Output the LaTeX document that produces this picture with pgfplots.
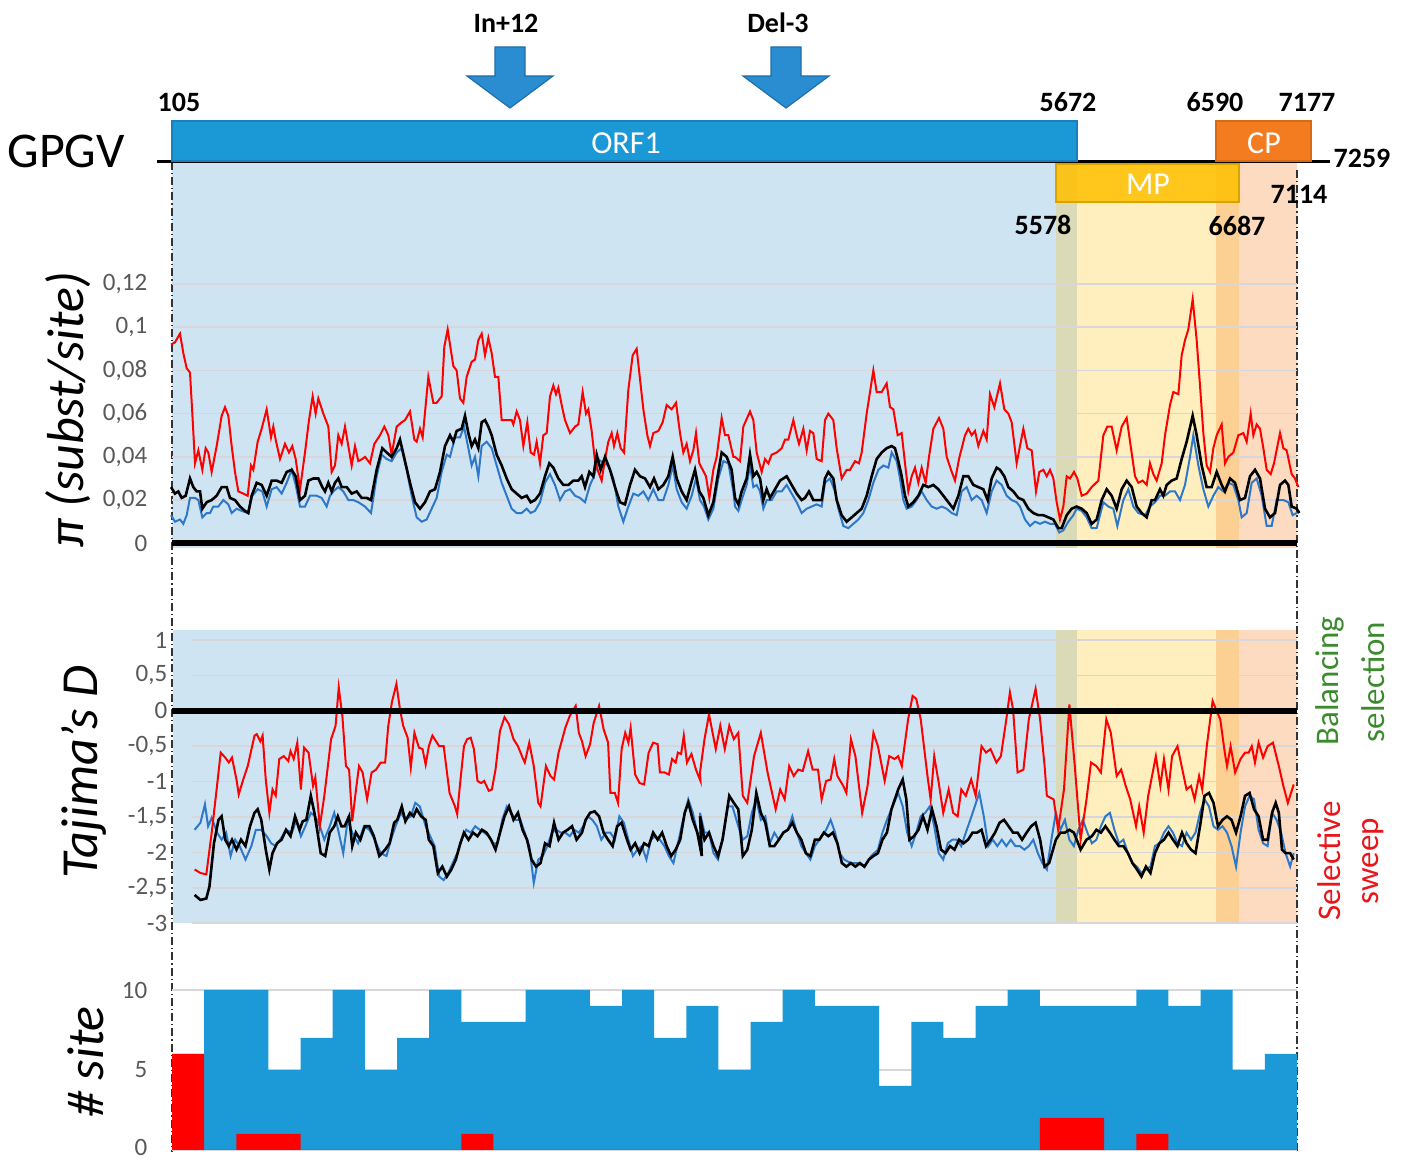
\documentclass[border=0pt]{standalone}
\usepackage{pgfplots}
\pgfplotsset{compat=1.18}
\usepackage{pgfplotstable}
\usepackage{fontspec}
\setmainfont{Carlito}
\definecolor{shblue}{HTML}{CFE4F3}
\definecolor{orfblue}{HTML}{1B98D6}
\definecolor{orfedge}{HTML}{1A7FBF}
\definecolor{mpyel}{HTML}{FFC000}
\definecolor{mpedge}{HTML}{D9A400}
\definecolor{cporg}{HTML}{F47C20}
\definecolor{cpedge}{HTML}{D96A14}
\definecolor{linered}{HTML}{FF0000}
\definecolor{lineblue}{HTML}{2E78C9}
\definecolor{barblue}{HTML}{1B9AD7}
\definecolor{tickgray}{HTML}{595959}
\definecolor{gridc}{HTML}{D8D6D8}
\definecolor{balgreen}{HTML}{3B8B2E}
\definecolor{selred}{HTML}{E8161B}
\definecolor{arrowblue}{HTML}{2A8DD2}
\definecolor{arrowedge}{HTML}{1F6FA8}

% pi: s = segment, x = position within segment, v = pi (subst/site)
\pgfplotstableread[row sep=\\]{
s x v\\
0 18 0.092\\ 0 30 0.093\\ 0 45 0.097\\ 0 55 0.088\\ 0 65 0.081\\ 0 75 0.079\\ 0 82 0.060\\ 0 90 0.037\\ 0 100 0.043\\ 0 112 0.034\\
0 122 0.044\\ 0 130 0.042\\ 0 140 0.033\\ 0 155 0.045\\ 0 170 0.059\\ 0 180 0.063\\ 0 190 0.059\\ 0 200 0.045\\ 0 210 0.033\\ 0 220 0.024\\
0 235 0.023\\ 0 248 0.022\\ 0 258 0.036\\ 0 265 0.034\\ 0 278 0.047\\ 0 290 0.053\\ 0 305 0.062\\ 0 318 0.049\\ 0 325 0.054\\ 0 332 0.048\\
0 345 0.039\\ 0 360 0.046\\ 0 372 0.042\\ 0 382 0.045\\ 0 392 0.039\\ 0 405 0.025\\ 0 420 0.042\\ 0 432 0.057\\ 0 443 0.068\\ 0 452 0.060\\
0 460 0.067\\ 0 475 0.060\\ 0 490 0.054\\ 0 500 0.033\\ 0 510 0.036\\ 0 520 0.050\\ 0 530 0.046\\ 0 540 0.054\\ 0 550 0.045\\ 0 560 0.036\\
0 570 0.045\\ 0 580 0.038\\ 0 592 0.039\\ 0 600 0.040\\ 0 615 0.037\\ 0 628 0.046\\ 0 645 0.050\\ 0 658 0.054\\ 0 670 0.050\\ 0 680 0.041\\
0 695 0.054\\ 0 710 0.056\\ 0 720 0.057\\ 0 735 0.061\\ 0 748 0.048\\ 0 755 0.047\\ 0 765 0.053\\ 0 773 0.049\\ 0 790 0.077\\ 0 805 0.065\\
0 815 0.065\\ 0 830 0.068\\ 0 838 0.091\\ 0 848 0.099\\
1 10 0.082\\ 1 20 0.080\\ 1 30 0.067\\ 1 40 0.065\\ 1 50 0.077\\ 1 65 0.084\\ 1 75 0.085\\ 1 85 0.094\\ 1 95 0.097\\ 1 105 0.087\\
1 115 0.095\\ 1 125 0.088\\ 1 135 0.077\\ 1 145 0.077\\ 1 155 0.057\\ 1 170 0.057\\ 1 185 0.057\\ 1 190 0.055\\ 1 200 0.061\\ 1 210 0.057\\
1 220 0.045\\ 1 232 0.056\\ 1 242 0.042\\ 1 252 0.041\\ 1 260 0.047\\ 1 270 0.037\\ 1 280 0.050\\ 1 290 0.051\\ 1 300 0.068\\ 1 310 0.073\\
1 318 0.069\\ 1 325 0.072\\ 1 335 0.064\\ 1 345 0.057\\ 1 360 0.051\\ 1 375 0.054\\ 1 385 0.055\\ 1 398 0.070\\ 1 408 0.060\\ 1 415 0.062\\
1 425 0.052\\ 1 435 0.038\\ 1 445 0.033\\ 1 455 0.029\\ 1 465 0.039\\ 1 475 0.047\\ 1 485 0.051\\ 1 492 0.045\\ 1 502 0.051\\ 1 512 0.044\\
1 522 0.042\\ 1 535 0.071\\ 1 548 0.087\\ 1 560 0.090\\ 1 570 0.076\\ 1 580 0.062\\ 1 592 0.050\\ 1 600 0.045\\ 1 610 0.051\\ 1 625 0.052\\
1 638 0.056\\ 1 650 0.064\\ 1 665 0.062\\ 1 678 0.065\\ 1 690 0.051\\ 1 700 0.042\\ 1 710 0.046\\ 1 720 0.038\\ 1 730 0.043\\ 1 738 0.051\\
1 748 0.037\\ 1 758 0.034\\ 1 768 0.031\\ 1 778 0.021\\ 1 790 0.034\\ 1 800 0.040\\ 1 815 0.058\\ 1 825 0.050\\ 1 835 0.050\\ 1 850 0.040\\
2 0 0.040\\ 2 15 0.038\\ 2 25 0.054\\ 2 45 0.061\\ 2 55 0.057\\ 2 65 0.042\\ 2 80 0.033\\ 2 90 0.039\\ 2 100 0.037\\ 2 110 0.041\\
2 125 0.042\\ 2 140 0.044\\ 2 150 0.048\\ 2 160 0.048\\ 2 175 0.057\\ 2 185 0.050\\ 2 192 0.046\\ 2 205 0.053\\ 2 215 0.043\\ 2 225 0.052\\
2 235 0.051\\ 2 245 0.039\\ 2 260 0.038\\ 2 270 0.057\\ 2 280 0.060\\ 2 295 0.057\\ 2 305 0.044\\ 2 320 0.030\\ 2 335 0.034\\ 2 345 0.034\\
2 360 0.038\\ 2 372 0.037\\ 2 380 0.042\\ 2 395 0.060\\ 2 405 0.070\\ 2 415 0.080\\ 2 425 0.070\\ 2 440 0.070\\ 2 455 0.074\\ 2 465 0.063\\
2 475 0.062\\ 2 488 0.050\\ 2 500 0.051\\ 2 510 0.037\\ 2 520 0.024\\ 2 530 0.031\\ 2 540 0.035\\ 2 550 0.028\\ 2 560 0.035\\ 2 572 0.028\\
2 582 0.040\\ 2 595 0.053\\ 2 612 0.058\\ 2 625 0.053\\ 2 635 0.040\\ 2 648 0.034\\ 2 660 0.029\\ 2 672 0.039\\ 2 690 0.050\\ 2 700 0.053\\
2 710 0.050\\ 2 720 0.052\\ 2 730 0.045\\ 2 745 0.052\\ 2 755 0.048\\ 2 765 0.069\\ 2 778 0.063\\ 2 795 0.074\\ 2 808 0.062\\ 2 820 0.060\\
2 830 0.056\\ 2 845 0.037\\
3 0 0.045\\ 3 10 0.053\\ 3 22 0.044\\ 3 35 0.043\\ 3 48 0.024\\ 3 58 0.033\\ 3 70 0.034\\ 3 80 0.031\\ 3 90 0.034\\ 3 100 0.030\\
3 110 0.019\\ 3 120 0.011\\ 3 130 0.017\\ 3 140 0.031\\ 3 150 0.030\\ 3 162 0.033\\ 3 172 0.030\\ 3 185 0.022\\ 3 200 0.023\\ 3 215 0.026\\
3 235 0.029\\ 3 250 0.050\\ 3 262 0.054\\ 3 275 0.054\\ 3 290 0.043\\ 3 305 0.054\\ 3 320 0.058\\ 3 332 0.045\\ 3 345 0.031\\ 3 355 0.028\\
3 368 0.029\\ 3 380 0.027\\ 3 390 0.037\\ 3 400 0.032\\ 3 410 0.029\\ 3 425 0.037\\ 3 435 0.050\\ 3 450 0.064\\ 3 460 0.070\\ 3 475 0.069\\
3 485 0.087\\ 3 495 0.094\\ 3 505 0.099\\ 3 518 0.113\\ 3 530 0.094\\ 3 540 0.073\\ 3 550 0.051\\ 3 560 0.036\\ 3 570 0.033\\ 3 580 0.044\\
3 590 0.050\\ 3 605 0.055\\ 3 615 0.037\\ 3 625 0.040\\ 3 640 0.042\\ 3 655 0.050\\ 3 670 0.051\\ 3 680 0.047\\ 3 692 0.060\\ 3 700 0.050\\
3 710 0.055\\ 3 720 0.053\\ 3 730 0.044\\ 3 740 0.034\\ 3 752 0.032\\ 3 762 0.037\\ 3 780 0.051\\ 3 790 0.044\\ 3 800 0.043\\ 3 815 0.032\\
3 825 0.030\\ 3 835 0.026\\
}\piRed

\pgfplotstableread[row sep=\\]{
s x v\\
0 18 0.026\\ 0 30 0.023\\ 0 40 0.024\\ 0 50 0.021\\ 0 62 0.022\\ 0 75 0.030\\ 0 85 0.026\\ 0 95 0.024\\ 0 105 0.024\\ 0 112 0.016\\
0 125 0.019\\ 0 140 0.020\\ 0 155 0.022\\ 0 170 0.026\\ 0 185 0.026\\ 0 195 0.021\\ 0 210 0.020\\ 0 225 0.017\\ 0 240 0.015\\ 0 250 0.014\\
0 260 0.022\\ 0 275 0.028\\ 0 290 0.027\\ 0 305 0.022\\ 0 320 0.029\\ 0 335 0.029\\ 0 350 0.028\\ 0 365 0.033\\ 0 380 0.034\\ 0 392 0.031\\
0 405 0.020\\ 0 420 0.022\\ 0 430 0.029\\ 0 445 0.030\\ 0 460 0.030\\ 0 472 0.026\\ 0 480 0.024\\ 0 490 0.028\\ 0 500 0.024\\ 0 510 0.028\\
0 520 0.030\\ 0 530 0.026\\ 0 545 0.026\\ 0 560 0.023\\ 0 575 0.024\\ 0 590 0.021\\ 0 605 0.021\\ 0 618 0.020\\ 0 635 0.034\\ 0 652 0.044\\
0 665 0.042\\ 0 680 0.040\\ 0 695 0.044\\ 0 705 0.048\\ 0 720 0.038\\ 0 735 0.028\\ 0 750 0.019\\ 0 765 0.016\\ 0 780 0.019\\ 0 795 0.024\\
0 810 0.025\\ 0 825 0.033\\ 0 840 0.045\\
1 0 0.050\\ 1 10 0.047\\ 1 20 0.052\\ 1 35 0.053\\ 1 45 0.059\\ 1 55 0.051\\ 1 65 0.045\\ 1 75 0.048\\ 1 85 0.044\\ 1 95 0.056\\
1 105 0.057\\ 1 115 0.054\\ 1 125 0.050\\ 1 140 0.041\\ 1 155 0.036\\ 1 170 0.030\\ 1 185 0.025\\ 1 200 0.023\\ 1 215 0.021\\ 1 230 0.022\\
1 242 0.019\\ 1 255 0.020\\ 1 270 0.023\\ 1 285 0.031\\ 1 298 0.037\\ 1 310 0.035\\ 1 325 0.030\\ 1 340 0.027\\ 1 355 0.027\\ 1 370 0.029\\
1 385 0.029\\ 1 395 0.031\\ 1 405 0.026\\ 1 418 0.033\\ 1 430 0.031\\ 1 440 0.041\\ 1 452 0.034\\ 1 465 0.040\\ 1 480 0.034\\ 1 495 0.026\\
1 510 0.019\\ 1 525 0.018\\ 1 540 0.027\\ 1 555 0.034\\ 1 570 0.031\\ 1 585 0.030\\ 1 600 0.026\\ 1 612 0.030\\ 1 625 0.025\\ 1 640 0.027\\
1 655 0.031\\ 1 668 0.040\\ 1 680 0.030\\ 1 695 0.024\\ 1 710 0.020\\ 1 722 0.027\\ 1 735 0.034\\ 1 748 0.024\\ 1 760 0.021\\ 1 775 0.013\\
1 790 0.019\\ 1 805 0.033\\ 1 815 0.042\\ 1 830 0.040\\ 1 845 0.034\\
2 0 0.021\\ 2 10 0.018\\ 2 20 0.024\\ 2 35 0.030\\ 2 45 0.041\\ 2 55 0.031\\ 2 65 0.033\\ 2 75 0.030\\ 2 85 0.020\\ 2 95 0.025\\
2 105 0.021\\ 2 120 0.025\\ 2 135 0.029\\ 2 155 0.031\\ 2 170 0.027\\ 2 185 0.023\\ 2 200 0.020\\ 2 210 0.021\\ 2 222 0.024\\ 2 235 0.020\\
2 245 0.020\\ 2 260 0.020\\ 2 270 0.030\\ 2 280 0.033\\ 2 295 0.030\\ 2 305 0.020\\ 2 320 0.013\\ 2 335 0.010\\ 2 350 0.012\\ 2 365 0.014\\
2 380 0.016\\ 2 395 0.022\\ 2 410 0.031\\ 2 425 0.039\\ 2 440 0.042\\ 2 455 0.044\\ 2 470 0.045\\ 2 480 0.044\\ 2 490 0.038\\ 2 500 0.031\\
2 510 0.022\\ 2 520 0.017\\ 2 535 0.019\\ 2 550 0.022\\ 2 565 0.027\\ 2 580 0.026\\ 2 595 0.027\\ 2 610 0.025\\ 2 625 0.022\\ 2 640 0.019\\
2 655 0.016\\ 2 670 0.022\\ 2 685 0.031\\ 2 700 0.031\\ 2 715 0.027\\ 2 730 0.026\\ 2 745 0.025\\ 2 758 0.020\\ 2 770 0.030\\ 2 785 0.035\\
2 795 0.034\\ 2 808 0.031\\ 2 820 0.026\\ 2 835 0.024\\ 2 850 0.021\\
3 10 0.020\\ 3 25 0.016\\ 3 40 0.014\\ 3 55 0.013\\ 3 70 0.013\\ 3 85 0.012\\ 3 100 0.011\\ 3 115 0.007\\ 3 125 0.007\\ 3 140 0.013\\
3 155 0.016\\ 3 170 0.017\\ 3 185 0.016\\ 3 200 0.014\\ 3 215 0.009\\ 3 230 0.011\\ 3 245 0.020\\ 3 260 0.025\\ 3 275 0.022\\ 3 290 0.016\\
3 305 0.025\\ 3 320 0.029\\ 3 335 0.026\\ 3 350 0.017\\ 3 365 0.014\\ 3 380 0.012\\ 3 395 0.020\\ 3 405 0.020\\ 3 420 0.025\\ 3 430 0.022\\
3 440 0.027\\ 3 455 0.029\\ 3 470 0.030\\ 3 485 0.039\\ 3 500 0.047\\ 3 518 0.059\\ 3 530 0.050\\ 3 545 0.036\\ 3 560 0.026\\ 3 575 0.026\\
3 590 0.033\\ 3 605 0.027\\ 3 615 0.024\\ 3 630 0.030\\ 3 645 0.028\\ 3 660 0.020\\ 3 675 0.021\\ 3 690 0.031\\ 3 705 0.034\\ 3 720 0.030\\
3 735 0.016\\ 3 750 0.012\\ 3 765 0.014\\ 3 780 0.027\\ 3 795 0.029\\ 3 805 0.027\\ 3 815 0.017\\ 3 830 0.016\\ 3 838 0.014\\
}\piBlack

\pgfplotstableread[row sep=\\]{
s x v\\
0 18 0.013\\ 0 30 0.010\\ 0 45 0.011\\ 0 55 0.009\\ 0 65 0.013\\ 0 75 0.021\\ 0 90 0.021\\ 0 100 0.020\\ 0 112 0.012\\ 0 125 0.014\\
0 135 0.014\\ 0 145 0.017\\ 0 160 0.017\\ 0 175 0.020\\ 0 190 0.018\\ 0 200 0.014\\ 0 215 0.016\\ 0 230 0.015\\ 0 248 0.014\\ 0 262 0.022\\
0 278 0.025\\ 0 292 0.024\\ 0 305 0.017\\ 0 320 0.025\\ 0 335 0.026\\ 0 350 0.023\\ 0 365 0.028\\ 0 380 0.034\\ 0 392 0.027\\ 0 405 0.017\\
0 420 0.017\\ 0 435 0.022\\ 0 455 0.022\\ 0 470 0.021\\ 0 485 0.017\\ 0 495 0.022\\ 0 505 0.024\\ 0 520 0.026\\ 0 535 0.024\\ 0 550 0.020\\
0 565 0.020\\ 0 580 0.019\\ 0 600 0.017\\ 0 618 0.014\\ 0 635 0.031\\ 0 650 0.041\\ 0 665 0.039\\ 0 680 0.038\\ 0 695 0.042\\ 0 710 0.044\\
0 725 0.034\\ 0 740 0.022\\ 0 755 0.012\\ 0 770 0.010\\ 0 785 0.011\\ 0 800 0.016\\ 0 815 0.021\\ 0 830 0.033\\ 0 845 0.041\\
1 0 0.040\\ 1 15 0.049\\ 1 30 0.049\\ 1 42 0.054\\ 1 55 0.044\\ 1 65 0.036\\ 1 75 0.040\\ 1 85 0.031\\ 1 95 0.045\\ 1 110 0.047\\
1 125 0.044\\ 1 140 0.036\\ 1 155 0.028\\ 1 170 0.022\\ 1 185 0.016\\ 1 200 0.014\\ 1 215 0.014\\ 1 230 0.016\\ 1 242 0.014\\ 1 255 0.015\\
1 270 0.019\\ 1 285 0.028\\ 1 300 0.032\\ 1 315 0.027\\ 1 330 0.020\\ 1 345 0.024\\ 1 360 0.025\\ 1 375 0.022\\ 1 390 0.021\\ 1 405 0.019\\
1 420 0.027\\ 1 432 0.031\\ 1 445 0.039\\ 1 460 0.037\\ 1 475 0.036\\ 1 490 0.030\\ 1 505 0.017\\ 1 520 0.010\\ 1 535 0.017\\ 1 550 0.023\\
1 565 0.022\\ 1 580 0.024\\ 1 595 0.020\\ 1 610 0.025\\ 1 625 0.020\\ 1 640 0.020\\ 1 655 0.027\\ 1 668 0.036\\ 1 680 0.025\\ 1 695 0.019\\
1 710 0.016\\ 1 725 0.022\\ 1 738 0.030\\ 1 750 0.020\\ 1 762 0.017\\ 1 775 0.011\\ 1 790 0.016\\ 1 805 0.030\\ 1 820 0.038\\ 1 835 0.037\\
1 850 0.024\\
2 0 0.017\\ 2 10 0.015\\ 2 20 0.020\\ 2 35 0.027\\ 2 45 0.036\\ 2 55 0.026\\ 2 65 0.027\\ 2 75 0.024\\ 2 85 0.016\\ 2 95 0.020\\
2 110 0.020\\ 2 125 0.024\\ 2 140 0.024\\ 2 155 0.027\\ 2 170 0.023\\ 2 185 0.019\\ 2 200 0.014\\ 2 215 0.016\\ 2 230 0.017\\ 2 245 0.018\\
2 260 0.017\\ 2 270 0.028\\ 2 285 0.030\\ 2 300 0.024\\ 2 310 0.016\\ 2 325 0.008\\ 2 340 0.007\\ 2 355 0.009\\ 2 370 0.011\\ 2 385 0.014\\
2 400 0.020\\ 2 415 0.028\\ 2 430 0.034\\ 2 445 0.036\\ 2 460 0.035\\ 2 470 0.042\\ 2 485 0.038\\ 2 495 0.030\\ 2 505 0.020\\ 2 515 0.016\\
2 530 0.017\\ 2 545 0.020\\ 2 560 0.024\\ 2 575 0.020\\ 2 590 0.017\\ 2 605 0.016\\ 2 620 0.017\\ 2 635 0.016\\ 2 650 0.014\\ 2 665 0.013\\
2 680 0.024\\ 2 695 0.026\\ 2 710 0.020\\ 2 725 0.022\\ 2 740 0.020\\ 2 755 0.014\\ 2 770 0.024\\ 2 785 0.029\\ 2 800 0.027\\ 2 815 0.022\\
2 830 0.020\\ 2 845 0.019\\
3 0 0.017\\ 3 15 0.011\\ 3 30 0.008\\ 3 45 0.010\\ 3 60 0.009\\ 3 75 0.010\\ 3 90 0.009\\ 3 105 0.009\\ 3 118 0.005\\ 3 130 0.006\\
3 145 0.010\\ 3 160 0.013\\ 3 170 0.016\\ 3 185 0.015\\ 3 200 0.012\\ 3 215 0.007\\ 3 230 0.007\\ 3 250 0.019\\ 3 265 0.017\\ 3 280 0.016\\
3 292 0.008\\ 3 310 0.020\\ 3 325 0.025\\ 3 340 0.017\\ 3 355 0.014\\ 3 375 0.013\\ 3 390 0.017\\ 3 405 0.019\\ 3 420 0.022\\ 3 435 0.022\\
3 450 0.024\\ 3 465 0.024\\ 3 480 0.020\\ 3 495 0.027\\ 3 510 0.040\\ 3 520 0.050\\ 3 535 0.036\\ 3 550 0.025\\ 3 565 0.017\\ 3 580 0.022\\
3 595 0.026\\ 3 610 0.024\\ 3 625 0.028\\ 3 640 0.027\\ 3 655 0.020\\ 3 665 0.012\\ 3 680 0.014\\ 3 695 0.028\\ 3 710 0.030\\ 3 725 0.022\\
3 740 0.008\\ 3 755 0.008\\ 3 770 0.020\\ 3 790 0.020\\ 3 805 0.019\\ 3 818 0.013\\ 3 830 0.014\\ 3 838 0.015\\
}\piBlue

% Tajima's D
\pgfplotstableread[row sep=\\]{
s x v\\
0 432 -2.24\\ 0 445 -2.29\\ 0 458 -2.31\\ 0 470 -1.72\\ 0 480 -1.16\\ 0 490 -0.59\\ 0 500 -0.66\\ 0 508 -0.73\\ 0 515 -0.66\\ 0 525 -0.97\\
0 530 -1.18\\ 0 540 -0.97\\ 0 550 -0.78\\ 0 565 -0.35\\ 0 570 -0.33\\ 0 578 -0.43\\ 0 583 -0.35\\ 0 590 -0.97\\ 0 598 -1.44\\ 0 605 -1.11\\
0 612 -1.20\\ 0 620 -0.68\\ 0 630 -0.64\\ 0 640 -0.71\\ 0 645 -0.57\\ 0 652 -0.68\\ 0 660 -0.45\\ 0 668 -1.11\\ 0 675 -0.52\\ 0 685 -0.59\\
0 695 -1.06\\ 0 700 -0.94\\ 0 710 -1.63\\ 0 720 -1.20\\ 0 735 -0.40\\ 0 745 -0.21\\ 0 752 0.33\\ 0 760 -0.07\\ 0 768 -0.78\\ 0 775 -0.83\\
0 782 -1.56\\ 0 790 -1.13\\ 0 797 -0.78\\ 0 805 -0.87\\ 0 815 -1.25\\ 0 825 -0.87\\ 0 835 -0.83\\ 0 845 -0.73\\ 0 855 -0.73\\ 0 862 -0.21\\
0 870 0.12\\ 0 880 0.38\\ 0 888 0.02\\ 0 895 -0.21\\ 0 905 -0.38\\ 0 912 -0.80\\ 0 920 -0.31\\ 0 930 -0.52\\ 0 938 -0.54\\ 0 945 -0.76\\
0 952 -0.50\\ 0 960 -0.35\\ 0 968 -0.43\\ 0 975 -0.50\\ 0 985 -0.50\\ 0 998 -1.16\\ 0 1010 -1.35\\ 0 1015 -1.46\\ 0 1022 -0.99\\ 0 1030 -0.50\\
0 1037 -0.40\\ 0 1045 -0.38\\ 0 1052 -0.54\\ 0 1060 -0.99\\ 0 1068 -1.02\\ 0 1075 -0.99\\ 0 1085 -1.13\\ 0 1092 -1.11\\ 0 1100 -0.83\\ 0 1110 -0.28\\
0 1120 -0.09\\ 0 1130 -0.19\\ 0 1140 -0.40\\ 0 1150 -0.50\\ 0 1160 -0.66\\ 0 1165 -0.73\\ 0 1175 -0.45\\ 0 1185 -0.78\\ 0 1195 -1.30\\ 0 1200 -1.35\\
0 1212 -0.78\\ 0 1222 -0.92\\ 0 1230 -0.97\\ 0 1240 -0.59\\ 0 1255 -0.24\\ 0 1265 -0.07\\ 0 1278 0.07\\ 0 1285 -0.31\\ 0 1292 -0.43\\ 0 1300 -0.64\\
0 1310 -0.47\\ 0 1318 -0.17\\ 0 1330 0.07\\ 0 1340 -0.26\\ 0 1350 -0.45\\ 0 1355 -1.16\\ 0 1365 -1.16\\ 0 1372 -1.30\\ 0 1380 -0.54\\ 0 1388 -0.31\\
0 1395 -0.45\\ 0 1400 -0.24\\ 0 1410 -0.90\\ 0 1420 -1.02\\ 0 1430 -1.04\\ 0 1440 -0.59\\ 0 1450 -0.45\\ 0 1460 -0.47\\ 0 1465 -0.87\\ 0 1475 -0.87\\
0 1485 -0.90\\ 0 1492 -0.68\\ 0 1500 -0.73\\ 0 1505 -0.59\\ 0 1512 -0.61\\ 0 1518 -0.35\\ 0 1525 -0.73\\ 0 1535 -0.61\\ 0 1545 -0.83\\ 0 1555 -0.99\\
1 0 -0.87\\ 1 10 -0.40\\ 1 20 -0.05\\ 1 35 -0.54\\ 1 45 -0.21\\ 1 55 -0.54\\ 1 65 -0.21\\ 1 75 -0.40\\ 1 85 -0.31\\ 1 95 -1.20\\
1 105 -1.30\\ 1 120 -0.64\\ 1 135 -0.31\\ 1 150 -0.87\\ 1 160 -1.16\\ 1 168 -1.39\\ 1 178 -1.11\\ 1 188 -1.25\\ 1 198 -0.78\\ 1 208 -0.92\\
1 218 -0.83\\ 1 228 -0.85\\ 1 240 -0.57\\ 1 250 -0.83\\ 1 262 -0.83\\ 1 270 -1.25\\ 1 280 -0.99\\ 1 290 -0.97\\ 1 298 -0.68\\ 1 305 -0.92\\
1 318 -1.06\\ 1 325 -1.16\\ 1 335 -0.40\\ 1 345 -0.64\\ 1 360 -1.44\\ 1 372 -1.06\\ 1 385 -0.31\\ 1 395 -0.50\\ 1 410 -0.99\\ 1 420 -0.64\\
1 432 -0.68\\ 1 440 -0.64\\ 1 448 -0.78\\ 1 462 -0.12\\ 1 472 0.21\\ 1 480 0.17\\ 1 490 -0.12\\ 1 505 -0.92\\ 1 512 -1.25\\ 1 520 -0.64\\
1 530 -1.02\\ 1 540 -1.44\\ 1 552 -1.11\\ 1 562 -1.44\\ 1 572 -1.49\\ 1 580 -1.11\\ 1 590 -1.20\\ 1 602 -0.97\\ 1 612 -1.20\\ 1 625 -0.50\\
1 635 -0.59\\ 1 645 -0.54\\ 1 658 -0.73\\ 1 668 -0.64\\ 1 680 -0.12\\ 1 688 0.26\\ 1 695 0.02\\ 1 705 -0.87\\ 1 718 -0.83\\ 1 730 -0.12\\
1 745 0.31\\ 1 755 -0.12\\ 1 765 -0.78\\ 1 770 -1.20\\ 1 785 -1.25\\ 1 795 -1.68\\ 1 808 -1.11\\ 1 820 0.09\\ 1 832 -0.78\\ 1 845 -1.82\\
1 858 -1.25\\ 1 868 -0.73\\ 1 880 -0.78\\ 1 890 -0.87\\ 1 902 -0.12\\ 1 912 -0.31\\ 1 925 -0.92\\ 1 935 -0.83\\ 1 945 -1.06\\ 1 955 -1.25\\
1 968 -1.63\\ 1 975 -1.35\\ 1 985 -1.72\\ 1 995 -1.20\\ 1 1012 -0.64\\ 1 1022 -1.06\\ 1 1030 -0.68\\ 1 1040 -1.11\\ 1 1048 -0.64\\ 1 1060 -0.50\\
1 1080 -1.11\\ 1 1090 -1.06\\ 1 1098 -1.25\\ 1 1108 -0.92\\ 1 1115 -1.11\\ 1 1125 -0.50\\ 1 1138 0.14\\ 1 1148 -0.02\\ 1 1155 -0.12\\ 1 1165 -0.59\\
1 1170 -0.78\\ 1 1178 -0.50\\ 1 1188 -0.87\\ 1 1200 -0.68\\ 1 1210 -0.59\\ 1 1218 -0.59\\ 1 1225 -0.50\\ 1 1232 -0.73\\ 1 1240 -0.45\\ 1 1250 -0.66\\
1 1260 -0.50\\ 1 1272 -0.45\\ 1 1285 -0.78\\ 1 1295 -1.06\\ 1 1305 -1.30\\ 1 1318 -1.04\\
}\tdRed

\pgfplotstableread[row sep=\\]{
s x v\\
0 432 -2.60\\ 0 445 -2.67\\ 0 458 -2.65\\ 0 465 -2.48\\ 0 475 -1.87\\ 0 485 -1.54\\ 0 492 -1.49\\ 0 500 -1.82\\ 0 508 -1.91\\ 0 515 -1.82\\
0 525 -1.96\\ 0 535 -1.82\\ 0 545 -1.91\\ 0 555 -1.63\\ 0 565 -1.44\\ 0 572 -1.39\\ 0 580 -1.54\\ 0 590 -1.96\\ 0 598 -2.24\\ 0 605 -2.01\\
0 615 -1.87\\ 0 625 -1.82\\ 0 635 -1.68\\ 0 645 -1.77\\ 0 655 -1.49\\ 0 665 -1.68\\ 0 672 -1.56\\ 0 680 -1.54\\ 0 690 -1.20\\ 0 698 -1.44\\
0 705 -1.72\\ 0 712 -2.01\\ 0 722 -2.05\\ 0 732 -1.72\\ 0 742 -1.63\\ 0 750 -1.49\\ 0 758 -1.63\\ 0 765 -1.63\\ 0 775 -1.49\\ 0 782 -1.91\\
0 790 -1.72\\ 0 800 -1.82\\ 0 810 -1.63\\ 0 820 -1.63\\ 0 830 -1.77\\ 0 842 -2.05\\ 0 855 -1.96\\ 0 865 -1.87\\ 0 875 -1.58\\ 0 882 -1.54\\
0 892 -1.35\\ 0 900 -1.56\\ 0 910 -1.44\\ 0 918 -1.49\\ 0 925 -1.39\\ 0 935 -1.49\\ 0 945 -1.54\\ 0 952 -1.82\\ 0 962 -1.91\\ 0 972 -2.29\\
0 982 -2.20\\ 0 992 -2.34\\ 0 1002 -2.24\\ 0 1012 -2.10\\ 0 1022 -1.87\\ 0 1030 -1.72\\ 0 1040 -1.82\\ 0 1050 -1.72\\ 0 1060 -1.77\\ 0 1070 -1.68\\
0 1080 -1.72\\ 0 1090 -1.82\\ 0 1100 -1.96\\ 0 1110 -1.72\\ 0 1120 -1.49\\ 0 1130 -1.35\\ 0 1140 -1.54\\ 0 1150 -1.44\\ 0 1160 -1.68\\ 0 1170 -1.82\\
0 1180 -2.10\\ 0 1190 -2.20\\ 0 1200 -2.15\\ 0 1210 -1.87\\ 0 1220 -1.91\\ 0 1230 -1.58\\ 0 1240 -1.82\\ 0 1250 -1.72\\ 0 1260 -1.68\\ 0 1270 -1.63\\
0 1280 -1.82\\ 0 1292 -1.72\\ 0 1300 -1.54\\ 0 1310 -1.44\\ 0 1320 -1.42\\ 0 1330 -1.49\\ 0 1340 -1.72\\ 0 1350 -1.82\\ 0 1360 -1.91\\ 0 1370 -1.63\\
0 1380 -1.58\\ 0 1392 -1.82\\ 0 1400 -1.96\\ 0 1410 -1.87\\ 0 1420 -2.01\\ 0 1430 -1.87\\ 0 1440 -1.91\\ 0 1450 -1.72\\ 0 1460 -1.82\\ 0 1470 -1.72\\
0 1480 -1.91\\ 0 1490 -2.05\\ 0 1500 -1.96\\ 0 1510 -1.82\\ 0 1520 -1.44\\ 0 1528 -1.30\\ 0 1538 -1.54\\ 0 1548 -1.72\\ 0 1558 -2.05\\
1 0 -1.49\\ 1 10 -1.82\\ 1 20 -1.72\\ 1 30 -1.91\\ 1 40 -2.05\\ 1 50 -1.82\\ 1 65 -1.20\\ 1 75 -1.30\\ 1 85 -1.39\\ 1 95 -2.05\\
1 105 -1.96\\ 1 115 -1.68\\ 1 125 -1.16\\ 1 135 -1.44\\ 1 145 -1.58\\ 1 155 -1.91\\ 1 165 -1.91\\ 1 175 -1.82\\ 1 185 -1.72\\ 1 195 -1.68\\
1 205 -1.58\\ 1 215 -1.72\\ 1 225 -1.82\\ 1 235 -2.01\\ 1 245 -2.05\\ 1 255 -1.82\\ 1 265 -1.82\\ 1 275 -1.72\\ 1 285 -1.77\\ 1 295 -1.72\\
1 305 -1.87\\ 1 315 -2.15\\ 1 325 -2.20\\ 1 335 -2.15\\ 1 345 -2.20\\ 1 355 -2.15\\ 1 365 -2.20\\ 1 375 -2.10\\ 1 385 -2.05\\ 1 395 -2.01\\
1 405 -1.82\\ 1 415 -1.72\\ 1 425 -1.39\\ 1 440 -1.11\\ 1 450 -0.97\\ 1 458 -1.25\\ 1 465 -1.82\\ 1 475 -1.77\\ 1 485 -1.68\\ 1 495 -1.49\\
1 505 -1.68\\ 1 515 -1.39\\ 1 525 -1.63\\ 1 535 -1.96\\ 1 545 -2.01\\ 1 555 -1.91\\ 1 565 -1.96\\ 1 575 -1.82\\ 1 585 -1.87\\ 1 595 -1.82\\
1 605 -1.72\\ 1 615 -1.72\\ 1 625 -1.68\\ 1 635 -1.91\\ 1 645 -1.82\\ 1 655 -1.72\\ 1 665 -1.58\\ 1 675 -1.54\\ 1 685 -1.63\\ 1 695 -1.72\\
1 705 -1.72\\ 1 715 -1.82\\ 1 725 -1.72\\ 1 735 -1.63\\ 1 745 -1.58\\ 1 755 -1.82\\ 1 765 -2.20\\ 1 775 -2.15\\ 1 790 -1.82\\ 1 800 -1.72\\
1 810 -1.72\\ 1 820 -1.68\\ 1 830 -1.72\\ 1 845 -1.96\\ 1 858 -1.82\\ 1 870 -1.77\\ 1 880 -1.68\\ 1 890 -1.72\\ 1 900 -1.63\\ 1 910 -1.72\\
1 920 -1.82\\ 1 930 -1.91\\ 1 940 -1.91\\ 1 950 -2.01\\ 1 960 -2.15\\ 1 970 -2.24\\ 1 980 -2.34\\ 1 990 -2.20\\ 1 1000 -2.29\\ 1 1010 -2.01\\
1 1020 -1.87\\ 1 1030 -1.82\\ 1 1040 -1.72\\ 1 1050 -1.82\\ 1 1060 -1.91\\ 1 1070 -1.72\\ 1 1080 -1.87\\ 1 1090 -1.96\\ 1 1100 -2.01\\ 1 1110 -1.63\\
1 1120 -1.20\\ 1 1130 -1.16\\ 1 1140 -1.30\\ 1 1150 -1.63\\ 1 1160 -1.54\\ 1 1170 -1.49\\ 1 1180 -1.54\\ 1 1190 -1.72\\ 1 1200 -1.49\\ 1 1210 -1.20\\
1 1220 -1.16\\ 1 1230 -1.39\\ 1 1240 -1.49\\ 1 1250 -1.82\\ 1 1260 -1.82\\ 1 1270 -1.44\\ 1 1278 -1.30\\ 1 1285 -1.44\\ 1 1292 -1.96\\ 1 1300 -2.01\\
1 1310 -2.01\\ 1 1318 -2.10\\
}\tdBlack

\pgfplotstableread[row sep=\\]{
s x v\\
0 432 -1.68\\ 0 445 -1.58\\ 0 455 -1.32\\ 0 462 -1.63\\ 0 470 -1.51\\ 0 482 -1.72\\ 0 492 -1.82\\ 0 502 -1.72\\ 0 512 -2.05\\ 0 522 -1.82\\
0 532 -1.91\\ 0 545 -2.10\\ 0 558 -1.91\\ 0 568 -1.68\\ 0 580 -1.68\\ 0 592 -1.77\\ 0 602 -1.87\\ 0 612 -1.91\\ 0 622 -1.82\\ 0 635 -1.68\\
0 648 -1.72\\ 0 658 -1.54\\ 0 668 -1.77\\ 0 678 -1.63\\ 0 690 -1.44\\ 0 700 -1.49\\ 0 710 -1.63\\ 0 720 -1.82\\ 0 732 -1.63\\ 0 742 -1.44\\
0 752 -1.72\\ 0 762 -2.01\\ 0 772 -1.54\\ 0 782 -1.72\\ 0 795 -1.87\\ 0 808 -1.63\\ 0 820 -1.68\\ 0 832 -1.82\\ 0 845 -2.01\\ 0 858 -2.05\\
0 868 -1.82\\ 0 878 -1.63\\ 0 890 -1.44\\ 0 900 -1.54\\ 0 912 -1.49\\ 0 922 -1.30\\ 0 932 -1.35\\ 0 945 -1.63\\ 0 955 -1.77\\ 0 965 -1.91\\
0 975 -2.34\\ 0 985 -2.39\\ 0 995 -2.29\\ 0 1005 -2.15\\ 0 1015 -2.01\\ 0 1025 -1.82\\ 0 1035 -1.68\\ 0 1045 -1.72\\ 0 1055 -1.63\\ 0 1065 -1.68\\
0 1075 -1.72\\ 0 1085 -1.77\\ 0 1095 -1.87\\ 0 1105 -1.87\\ 0 1115 -1.54\\ 0 1125 -1.35\\ 0 1135 -1.44\\ 0 1145 -1.54\\ 0 1155 -1.54\\ 0 1165 -1.72\\
0 1175 -1.91\\ 0 1185 -2.43\\ 0 1195 -2.10\\ 0 1205 -2.05\\ 0 1215 -1.91\\ 0 1225 -1.72\\ 0 1235 -1.68\\ 0 1245 -1.72\\ 0 1255 -1.72\\ 0 1265 -1.77\\
0 1275 -1.68\\ 0 1285 -1.72\\ 0 1295 -1.63\\ 0 1305 -1.49\\ 0 1315 -1.54\\ 0 1325 -1.63\\ 0 1335 -1.82\\ 0 1345 -1.72\\ 0 1355 -1.72\\ 0 1365 -1.82\\
0 1375 -1.49\\ 0 1385 -1.58\\ 0 1395 -1.82\\ 0 1405 -2.05\\ 0 1415 -1.96\\ 0 1425 -1.91\\ 0 1435 -2.10\\ 0 1445 -1.82\\ 0 1455 -1.77\\ 0 1465 -1.82\\
0 1475 -1.91\\ 0 1485 -2.05\\ 0 1495 -2.15\\ 0 1505 -1.87\\ 0 1515 -1.58\\ 0 1528 -1.25\\ 0 1538 -1.44\\ 0 1548 -1.72\\ 0 1558 -2.01\\
1 0 -1.44\\ 1 10 -1.72\\ 1 20 -1.72\\ 1 30 -2.01\\ 1 40 -2.10\\ 1 50 -1.82\\ 1 62 -1.35\\ 1 72 -1.35\\ 1 85 -1.63\\ 1 95 -1.82\\
1 105 -1.77\\ 1 115 -1.44\\ 1 125 -1.25\\ 1 135 -1.54\\ 1 145 -1.49\\ 1 155 -1.87\\ 1 165 -1.72\\ 1 175 -1.82\\ 1 185 -1.72\\ 1 195 -1.68\\
1 205 -1.49\\ 1 215 -1.72\\ 1 225 -1.91\\ 1 235 -2.01\\ 1 245 -2.10\\ 1 255 -1.91\\ 1 265 -1.82\\ 1 280 -1.68\\ 1 290 -1.54\\ 1 300 -1.72\\
1 310 -2.01\\ 1 320 -2.10\\ 1 335 -2.15\\ 1 350 -2.15\\ 1 365 -2.20\\ 1 380 -2.05\\ 1 395 -1.96\\ 1 405 -1.72\\ 1 415 -1.54\\ 1 425 -1.39\\
1 440 -1.16\\ 1 450 -1.35\\ 1 460 -1.72\\ 1 470 -1.91\\ 1 480 -1.72\\ 1 490 -1.49\\ 1 500 -1.44\\ 1 510 -1.35\\ 1 520 -1.63\\ 1 530 -2.01\\
1 540 -2.10\\ 1 550 -1.87\\ 1 560 -1.82\\ 1 570 -1.82\\ 1 580 -1.91\\ 1 590 -1.72\\ 1 600 -1.54\\ 1 610 -1.35\\ 1 620 -1.16\\ 1 630 -1.49\\
1 640 -1.91\\ 1 650 -1.82\\ 1 660 -1.91\\ 1 670 -1.82\\ 1 680 -1.91\\ 1 690 -1.82\\ 1 700 -1.91\\ 1 710 -1.91\\ 1 720 -1.96\\ 1 730 -1.91\\
1 740 -1.82\\ 1 750 -2.01\\ 1 760 -2.15\\ 1 770 -2.24\\ 1 780 -1.82\\ 1 790 -1.44\\ 1 800 -1.68\\ 1 810 -1.54\\ 1 820 -1.82\\ 1 830 -1.91\\
1 840 -1.68\\ 1 850 -1.54\\ 1 860 -1.72\\ 1 870 -1.87\\ 1 880 -1.82\\ 1 890 -1.63\\ 1 900 -1.49\\ 1 910 -1.44\\ 1 920 -1.68\\ 1 930 -1.87\\
1 940 -1.82\\ 1 950 -2.01\\ 1 960 -2.15\\ 1 970 -2.20\\ 1 980 -2.29\\ 1 990 -2.24\\ 1 1000 -2.20\\ 1 1010 -1.91\\ 1 1020 -1.87\\ 1 1030 -1.72\\
1 1040 -1.63\\ 1 1050 -1.72\\ 1 1060 -1.87\\ 1 1070 -1.91\\ 1 1080 -1.72\\ 1 1090 -1.82\\ 1 1100 -1.72\\ 1 1110 -1.44\\ 1 1120 -1.25\\ 1 1130 -1.35\\
1 1140 -1.63\\ 1 1150 -1.68\\ 1 1160 -1.63\\ 1 1170 -1.72\\ 1 1180 -1.91\\ 1 1190 -2.20\\ 1 1200 -1.72\\ 1 1210 -1.35\\ 1 1220 -1.20\\ 1 1230 -1.25\\
1 1240 -1.68\\ 1 1250 -1.87\\ 1 1260 -1.91\\ 1 1270 -1.44\\ 1 1280 -1.54\\ 1 1290 -1.72\\ 1 1300 -2.01\\ 1 1310 -2.20\\ 1 1318 -2.01\\
}\tdBlue

\pgfplotsset{
  panel/.style={scale only axis, clip=false,
    axis line style={draw=none}, major tick style={draw=none},
    xtick=\empty, ymajorgrids, grid style={gridc, line width=0.8pt},
    yticklabel style={font=\fontsize{12.5}{15}\selectfont, text=tickgray,
      anchor=east, inner sep=0pt, xshift=-12.2pt}},
  table/pix/.style={x expr=\thisrow{x}/3+165+285*\thisrow{s}, y=v},
  table/tdx/.style={x expr=\thisrow{x}/2.22+700*\thisrow{s}, y=v}
}

\begin{document}
\begin{tikzpicture}
% ---------- canvas in reference pixels ----------
\begin{axis}[name=canvas, at={(0,0)}, anchor=south west, scale only axis,
  width=704pt, height=579.5pt, xmin=0, xmax=1408, ymin=0, ymax=1159,
  y dir=reverse, hide axis, clip=false]
  \fill[shblue] (axis cs:172,163) rectangle (axis cs:1077,548);
  \fill[mpyel, opacity=0.25] (axis cs:1056,163) rectangle (axis cs:1239,548);
  \fill[cporg, opacity=0.28] (axis cs:1216,163) rectangle (axis cs:1297,548);
  \fill[shblue] (axis cs:173,630) rectangle (axis cs:1077,923);
  \fill[mpyel, opacity=0.25] (axis cs:1056,630) rectangle (axis cs:1239,923);
  \fill[cporg, opacity=0.28] (axis cs:1216,630) rectangle (axis cs:1297,923);
  \draw[black!80, line width=0.6pt, dash pattern=on 4pt off 1.5pt on 0.6pt off 1.5pt]
    (axis cs:172,162) -- (axis cs:172,1152);
  \draw[black!80, line width=0.6pt, dash pattern=on 4pt off 1.5pt on 0.6pt off 1.5pt]
    (axis cs:1297,170) -- (axis cs:1297,1152);
  \draw[line width=1.5pt] (axis cs:157,162) -- (axis cs:1330,162);
  \filldraw[fill=orfblue, draw=orfedge, line width=0.6pt] (axis cs:172,121) rectangle (axis cs:1077,161);
  \filldraw[fill=mpyel, fill opacity=0.85, draw=mpedge, line width=0.6pt] (axis cs:1056,164) rectangle (axis cs:1239,202);
  \filldraw[fill=cporg, draw=cpedge, line width=0.6pt] (axis cs:1216,121) rectangle (axis cs:1311,161);
  \node[text=white, font=\fontsize{16}{18}\selectfont] at (axis cs:626,143) {ORF1};
  \node[text=white, font=\fontsize{16}{18}\selectfont] at (axis cs:1148,184) {MP};
  \node[text=white, font=\fontsize{16}{18}\selectfont] at (axis cs:1264,143) {CP};
  \node[font=\fontsize{25}{28}\selectfont] at (axis cs:66,151) {GPGV};
  \begin{scope}[font=\bfseries\fontsize{14}{16}\selectfont]
    \node at (axis cs:179,102) {105};
    \node at (axis cs:1068,102) {5672};
    \node at (axis cs:1215,102) {6590};
    \node at (axis cs:1307,102) {7177};
    \node at (axis cs:1362,158) {7259};
    \node at (axis cs:1299,194) {7114};
    \node at (axis cs:1043,225) {5578};
    \node at (axis cs:1237,226) {6687};
    \node at (axis cs:506,23) {In+12};
    \node at (axis cs:778,23) {Del-3};
  \end{scope}
  \filldraw[fill=arrowblue, draw=arrowedge, line width=0.6pt]
    (axis cs:495,47) -- (axis cs:525,47) -- (axis cs:525,76) -- (axis cs:553,76)
    -- (axis cs:510,108) -- (axis cs:467,76) -- (axis cs:495,76) -- cycle;
  \filldraw[fill=arrowblue, draw=arrowedge, line width=0.6pt]
    (axis cs:771,47) -- (axis cs:801,47) -- (axis cs:801,76) -- (axis cs:829,76)
    -- (axis cs:786,108) -- (axis cs:743,76) -- (axis cs:771,76) -- cycle;
  \node[rotate=90, font=\itshape\fontsize{26}{28}\selectfont] at (axis cs:68,410) {π (subst/site)};
  \node[rotate=90, font=\itshape\fontsize{26}{28}\selectfont] at (axis cs:84,772) {Tajima’s D};
  \node[rotate=90, font=\itshape\fontsize{26}{28}\selectfont] at (axis cs:86,1062) {\# site};
  \node[rotate=90, text=balgreen, font=\fontsize{16.5}{18}\selectfont] at (axis cs:1330,681) {Balancing};
  \node[rotate=90, text=balgreen, font=\fontsize{16.5}{18}\selectfont] at (axis cs:1373,682) {selection};
  \node[rotate=90, text=selred, font=\fontsize{16.5}{18}\selectfont] at (axis cs:1329,861) {Selective};
  \node[rotate=90, text=selred, font=\fontsize{16.5}{18}\selectfont] at (axis cs:1373,861) {sweep};
  \coordinate (piSW) at (axis cs:172,543.3);
  \coordinate (tdSW) at (axis cs:192,923.3);
  \coordinate (stSW) at (axis cs:172,1150);
  \coordinate (C0) at (axis cs:0,1159);
  \coordinate (C1) at (axis cs:1408,0);
\end{axis}

\begin{axis}[panel, at={(piSW)}, anchor=south west, width=562.5pt, height=129.65pt,
  xmin=172, xmax=1297, ymin=0, ymax=0.12,
  ytick={0,0.02,0.04,0.06,0.08,0.1,0.12},
  yticklabels={0,{0,02},{0,04},{0,06},{0,08},{0,1},{0,12}}]
  \addplot[lineblue, line width=1pt] table[pix] {\piBlue};
  \addplot[linered, line width=1pt] table[pix] {\piRed};
  \addplot[black, line width=1.3pt] table[pix] {\piBlack};
  \draw[black, line width=3.2pt] (axis cs:172,0) -- (axis cs:1297,0);
\end{axis}

\begin{axis}[panel, at={(tdSW)}, anchor=south west, width=552.5pt, height=141.65pt,
  xmin=192, xmax=1297, ymin=-3, ymax=1,
  ytick={-3,-2.5,-2,-1.5,-1,-0.5,0,0.5,1},
  yticklabels={-3,{-2,5},-2,{-1,5},-1,{-0,5},0,{0,5},1}]
  \addplot[lineblue, line width=1pt] table[tdx] {\tdBlue};
  \addplot[linered, line width=1pt] table[tdx] {\tdRed};
  \addplot[black, line width=1.3pt] table[tdx] {\tdBlack};
  \draw[black, line width=3.2pt] (axis cs:172,0) -- (axis cs:1297,0);
\end{axis}

\begin{axis}[panel, at={(stSW)}, anchor=south west, width=562.5pt, height=80pt,
  xmin=0, xmax=35, ymin=0, ymax=10,
  ytick={0,5,10}, yticklabels={\raisebox{2.5pt}{0},5,10}]
  \addplot[ybar interval, fill=barblue, draw=none] coordinates {
    (0,6) (1,10) (2,10) (3,5) (4,7) (5,10) (6,5) (7,7) (8,10) (9,8)
    (10,8) (11,10) (12,10) (13,9) (14,10) (15,7) (16,9) (17,5) (18,8) (19,10)
    (20,9) (21,9) (22,4) (23,8) (24,7) (25,9) (26,10) (27,9) (28,9) (29,9)
    (30,10) (31,9) (32,10) (33,5) (34,6) (35,6)};
  \addplot[ybar interval, fill=linered, draw=none] coordinates {
    (0,6) (1,0) (2,1) (3,1) (4,0) (5,0) (6,0) (7,0) (8,0) (9,1)
    (10,0) (11,0) (12,0) (13,0) (14,0) (15,0) (16,0) (17,0) (18,0) (19,0)
    (20,0) (21,0) (22,0) (23,0) (24,0) (25,0) (26,0) (27,2) (28,2) (29,0)
    (30,1) (31,0) (32,0) (33,0) (34,0) (35,0)};
\end{axis}

\pgfresetboundingbox
\path (C0) rectangle (C1);
\end{tikzpicture}
\end{document}
